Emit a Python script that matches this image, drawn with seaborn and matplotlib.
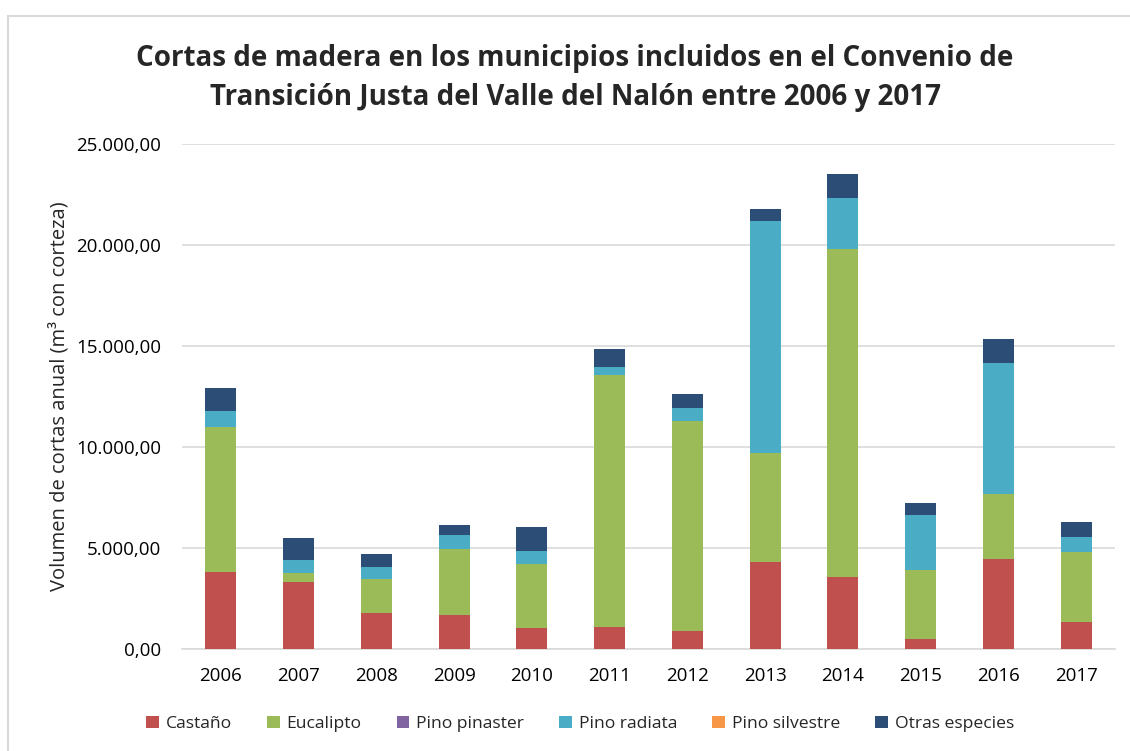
import matplotlib
matplotlib.use("Agg")
import matplotlib.pyplot as plt
from matplotlib.patches import Rectangle, Patch
from matplotlib.ticker import FuncFormatter
import numpy as np
import pandas as pd
import seaborn as sns

# Annual timber harvest (m3 with bark) by species
years = ["2006", "2007", "2008", "2009", "2010", "2011",
         "2012", "2013", "2014", "2015", "2016", "2017"]
castano = [3830, 3300, 1780, 1680, 1050, 1070, 890, 4320, 3580, 480, 4470, 1350]
eucalipto = [7140, 460, 1690, 3270, 3140, 12490, 10380, 5370, 16210, 3430, 3200, 3440]
pino_pinaster = [0, 0, 0, 0, 0, 0, 0, 0, 0, 0, 0, 0]
pino_radiata = [810, 650, 590, 680, 660, 400, 650, 11500, 2550, 2720, 6470, 750]
pino_silvestre = [0, 0, 0, 0, 0, 0, 0, 0, 0, 0, 0, 0]
otras = [1130, 1070, 640, 520, 1190, 890, 700, 580, 1170, 610, 1210, 750]

species = ["Castaño", "Eucalipto", "Pino pinaster", "Pino radiata",
           "Pino silvestre", "Otras especies"]
values = [castano, eucalipto, pino_pinaster, pino_radiata, pino_silvestre, otras]
colors = ["#C0504D", "#9BBB59", "#8064A2", "#4BACC6", "#F79646", "#2C4D75"]

df = pd.DataFrame({"year": years})
for name, vals in zip(species, values):
    df[name] = vals
cum = df[species].cumsum(axis=1)

sns.set_theme(style="white")
plt.rcParams["font.family"] = ["Open Sans", "DejaVu Sans"]

fig = plt.figure(figsize=(11.30, 7.51), dpi=100)
ax = fig.add_axes([182 / 1130, 1 - 649 / 751, (1115 - 182) / 1130, (649 - 144) / 751])

# stacked bars: draw cumulative totals from the top segment down
for name, color in reversed(list(zip(species, colors))):
    sns.barplot(x=df["year"], y=cum[name], color=color, width=0.4,
                saturation=1, ax=ax, linewidth=0, zorder=3)

ax.set_ylim(0, 25000)
ax.set_xlim(-0.5, len(years) - 0.5)
ax.set_yticks(np.arange(0, 25001, 5000))
ax.yaxis.set_major_formatter(FuncFormatter(
    lambda v, p: f"{v:,.2f}".replace(",", "X").replace(".", ",").replace("X", ".")))
ax.grid(axis="y", color="#D9D9D9", linewidth=1.2, zorder=0)
ax.set_axisbelow(True)
for s in ["top", "right", "left"]:
    ax.spines[s].set_visible(False)
ax.spines["bottom"].set_color("#D9D9D9")
ax.spines["bottom"].set_linewidth(1.2)
ax.tick_params(axis="both", length=0, labelsize=13.5, colors="#000000")
ax.tick_params(axis="x", pad=13)
ax.tick_params(axis="y", pad=15)
ax.set_xlabel("")
ax.set_ylabel("Volumen de cortas anual (m³ con corteza)", fontsize=14.5, labelpad=5)

fig.text(575 / 1130, 1 - 78 / 751,
         "Cortas de madera en los municipios incluidos en el Convenio de\n"
         "Transición Justa del Valle del Nalón entre 2006 y 2017",
         ha="center", va="center", fontsize=20, fontweight="bold",
         linespacing=1.45)

handles = [Patch(facecolor=c, edgecolor="none") for c in colors]
fig.legend(handles, species, loc="center", bbox_to_anchor=(580 / 1130, 1 - 724 / 751),
           ncol=6, frameon=False, fontsize=12.6, handlelength=0.72,
           handleheight=0.72, handletextpad=0.4, columnspacing=2.0)

# chart frame
fig.patches.append(Rectangle((8 / 1130, -0.05), 1.2, 1 - 16 / 751 + 0.05,
                             transform=fig.transFigure, fill=False,
                             edgecolor="#D9D9D9", linewidth=1.5))

fig.savefig("out.png", dpi=100)
